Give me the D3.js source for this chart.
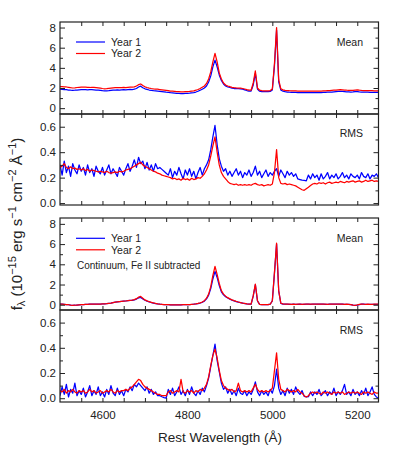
<!DOCTYPE html>
<html>
<head>
<meta charset="utf-8">
<script src="https://cdn.jsdelivr.net/npm/d3@7"></script>
<style>
  body { margin: 0; background: #fff; }
  svg { font-family: "Liberation Sans", Arial, Helvetica, sans-serif; }
</style>
</head>
<body>
<div id="chart"></div>
<script>
// wavelength grid, 5 A steps from 4500 to 5250
const waveStart = 4500, waveStep = 5, waveEnd = 5250;
const wave = d3.range(waveStart, waveEnd + 1, waveStep);

// Mean spectra (top panel)
const meanY1 = [
  1.88,1.87,1.85,1.83,1.80,1.78,1.77,1.78,1.80,1.82,
  1.84,1.85,1.84,1.82,1.83,1.84,1.82,1.80,1.78,1.76,
  1.73,1.71,1.72,1.74,1.77,1.79,1.80,1.81,1.80,1.82,
  1.83,1.82,1.84,1.86,1.85,1.88,1.95,2.10,2.18,2.02,
  1.92,1.86,1.80,1.77,1.74,1.72,1.70,1.67,1.64,1.61,
  1.58,1.56,1.53,1.51,1.49,1.47,1.46,1.45,1.45,1.46,
  1.47,1.49,1.52,1.55,1.60,1.68,1.78,1.88,2.00,2.20,
  2.60,3.20,4.10,4.77,4.10,3.30,2.75,2.40,2.20,2.10,
  2.05,1.98,1.95,1.93,1.93,1.92,1.88,1.82,1.75,1.70,
  1.70,2.30,3.46,1.90,1.68,1.65,1.64,1.64,1.63,1.66,
  1.80,4.20,7.74,2.60,1.80,1.68,1.63,1.60,1.58,1.57,
  1.56,1.56,1.55,1.55,1.54,1.54,1.54,1.53,1.54,1.54,
  1.54,1.55,1.55,1.55,1.56,1.57,1.58,1.59,1.60,1.62,
  1.64,1.66,1.67,1.66,1.64,1.62,1.61,1.60,1.61,1.63,
  1.65,1.62,1.60,1.59,1.58,1.58,1.57,1.57,1.56,1.56,
  1.56
];
const meanY2 = [
  2.13,2.14,2.12,2.10,2.07,2.03,2.00,2.02,2.05,2.07,
  2.08,2.09,2.08,2.06,2.05,2.07,2.06,2.04,2.02,1.99,
  1.95,1.92,1.93,1.96,1.99,2.02,2.03,2.04,2.03,2.04,
  2.05,2.04,2.06,2.08,2.08,2.12,2.20,2.33,2.40,2.25,
  2.12,2.05,1.99,1.95,1.92,1.90,1.88,1.85,1.82,1.79,
  1.76,1.73,1.70,1.68,1.66,1.64,1.63,1.62,1.62,1.63,
  1.64,1.66,1.69,1.72,1.78,1.85,1.95,2.08,2.20,2.45,
  2.90,3.60,4.60,5.43,4.60,3.50,2.90,2.50,2.30,2.20,
  2.13,2.07,2.03,2.01,2.00,1.99,1.95,1.90,1.84,1.79,
  1.78,2.50,3.69,2.00,1.78,1.74,1.72,1.72,1.71,1.74,
  1.90,4.40,8.00,2.80,1.92,1.82,1.77,1.75,1.73,1.72,
  1.71,1.71,1.70,1.70,1.69,1.69,1.69,1.68,1.69,1.69,
  1.69,1.70,1.70,1.70,1.71,1.72,1.73,1.74,1.76,1.78,
  1.80,1.82,1.83,1.82,1.80,1.78,1.77,1.76,1.77,1.79,
  1.81,1.78,1.76,1.75,1.74,1.74,1.73,1.73,1.72,1.72,
  1.72
];

// RMS spectra
const rmsY1 = [
  0.30,0.22,0.33,0.24,0.29,0.21,0.31,0.26,0.23,0.30,
  0.25,0.28,0.22,0.30,0.24,0.27,0.21,0.29,0.25,0.23,
  0.28,0.22,0.26,0.30,0.23,0.27,0.24,0.21,0.28,0.25,
  0.22,0.27,0.31,0.25,0.29,0.34,0.28,0.36,0.31,0.33,
  0.27,0.32,0.26,0.30,0.25,0.31,0.27,0.28,0.265,0.25,
  0.235,0.22,0.27,0.20,0.25,0.22,0.28,0.23,0.19,0.26,
  0.22,0.27,0.21,0.25,0.19,0.24,0.28,0.22,0.27,0.30,
  0.34,0.42,0.52,0.61,0.46,0.35,0.29,0.25,0.27,0.22,
  0.25,0.21,0.24,0.27,0.22,0.25,0.20,0.24,0.22,0.26,
  0.21,0.24,0.29,0.22,0.25,0.20,0.23,0.26,0.21,0.24,
  0.22,0.25,0.27,0.21,0.26,0.23,0.20,0.25,0.22,0.24,
  0.21,0.23,0.19,0.185,0.18,0.178,0.175,0.22,0.19,0.23,
  0.20,0.22,0.18,0.23,0.19,0.21,0.24,0.19,0.22,0.20,
  0.23,0.19,0.21,0.24,0.20,0.22,0.19,0.23,0.21,0.20,
  0.22,0.19,0.24,0.21,0.20,0.23,0.19,0.22,0.21,0.23,
  0.20
];
const rmsY2 = [
  0.28,0.29,0.31,0.28,0.27,0.285,0.27,0.275,0.265,0.27,
  0.26,0.27,0.255,0.265,0.25,0.26,0.255,0.25,0.245,0.25,
  0.245,0.24,0.25,0.24,0.235,0.24,0.245,0.24,0.25,0.245,
  0.25,0.26,0.265,0.27,0.28,0.29,0.30,0.31,0.32,0.30,
  0.29,0.28,0.27,0.26,0.25,0.245,0.235,0.23,0.22,0.215,
  0.21,0.205,0.20,0.19,0.195,0.185,0.19,0.18,0.195,0.185,
  0.19,0.18,0.195,0.185,0.19,0.20,0.195,0.21,0.23,0.26,
  0.30,0.37,0.45,0.52,0.40,0.30,0.24,0.21,0.19,0.17,
  0.155,0.15,0.145,0.15,0.14,0.145,0.14,0.145,0.14,0.145,
  0.14,0.15,0.155,0.145,0.14,0.145,0.135,0.14,0.145,0.14,
  0.15,0.24,0.42,0.20,0.155,0.15,0.155,0.145,0.15,0.145,
  0.14,0.135,0.125,0.115,0.105,0.10,0.1125,0.125,0.1375,0.15,
  0.155,0.15,0.16,0.155,0.16,0.15,0.16,0.165,0.155,0.16,
  0.165,0.16,0.17,0.165,0.16,0.17,0.165,0.17,0.175,0.165,
  0.17,0.175,0.165,0.17,0.18,0.17,0.175,0.18,0.17,0.175,
  0.17
];

// Mean spectra, continuum and Fe II subtracted
const meanSubY1 = [
  0.07,0.06,0.04,0.02,0.00,-0.04,-0.06,-0.05,-0.03,-0.01,
  0.01,0.02,0.03,0.04,0.05,0.05,0.06,0.06,0.06,0.07,
  0.08,0.09,0.11,0.14,0.17,0.21,0.25,0.28,0.31,0.33,
  0.35,0.37,0.40,0.42,0.44,0.48,0.56,0.68,0.72,0.58,
  0.44,0.35,0.28,0.22,0.17,0.12,0.08,0.05,0.03,0.02,
  0.01,0.00,-0.01,-0.01,-0.02,-0.02,-0.01,-0.01,0.00,0.00,
  0.01,0.02,0.03,0.05,0.08,0.12,0.17,0.24,0.36,0.58,
  0.95,1.60,2.55,3.30,2.70,1.90,1.28,0.98,0.80,0.66,
  0.55,0.46,0.38,0.31,0.25,0.20,0.16,0.12,0.08,0.06,
  0.05,0.85,2.00,0.38,0.03,0.01,0.00,0.00,0.01,0.05,
  0.38,3.10,6.00,1.35,0.14,0.07,0.05,0.05,0.04,0.04,
  0.05,0.04,0.04,0.05,0.04,0.04,0.05,0.05,0.04,0.05,
  0.05,0.05,0.06,0.05,0.05,0.04,0.04,0.05,0.05,0.05,
  0.05,0.06,0.06,0.05,0.04,0.04,0.04,0.02,-0.04,-0.07,
  -0.03,0.02,0.06,0.05,0.04,0.04,0.04,0.03,0.04,0.04,
  0.04
];
const meanSubY2 = [
  0.07,0.06,0.04,0.02,0.00,-0.04,-0.06,-0.05,-0.03,-0.01,
  0.01,0.02,0.03,0.04,0.05,0.05,0.06,0.06,0.06,0.07,
  0.08,0.09,0.11,0.14,0.17,0.21,0.25,0.28,0.31,0.33,
  0.35,0.37,0.40,0.42,0.45,0.50,0.60,0.75,0.82,0.65,
  0.48,0.38,0.30,0.24,0.18,0.13,0.09,0.06,0.04,0.02,
  0.01,0.00,-0.01,-0.01,-0.02,-0.02,-0.01,-0.01,0.00,0.00,
  0.01,0.02,0.04,0.06,0.09,0.13,0.19,0.27,0.40,0.65,
  1.05,1.80,2.90,3.80,3.00,2.10,1.40,1.05,0.85,0.70,
  0.58,0.48,0.40,0.33,0.27,0.22,0.17,0.13,0.09,0.07,
  0.06,0.90,2.05,0.40,0.03,0.01,0.00,0.00,0.01,0.05,
  0.40,3.20,6.10,1.40,0.15,0.08,0.06,0.05,0.05,0.04,
  0.05,0.04,0.05,0.05,0.04,0.05,0.06,0.05,0.05,0.06,
  0.06,0.05,0.06,0.06,0.05,0.05,0.04,0.05,0.06,0.05,
  0.06,0.07,0.06,0.05,0.04,0.05,0.04,0.02,-0.03,-0.06,
  -0.02,0.03,0.07,0.05,0.04,0.05,0.04,0.04,0.05,0.05,
  0.05
];

// RMS spectra, continuum and Fe II subtracted
const rmsSubY1 = [
  0.02,0.09,0.03,0.11,0.01,0.07,0.04,0.12,0.02,0.06,
  0.03,0.08,0.01,0.05,0.10,0.02,0.06,0.03,0.09,0.02,
  0.05,0.01,0.07,0.03,0.10,0.04,0.02,0.08,0.03,0.06,
  0.02,0.07,0.05,0.09,0.06,0.11,0.09,0.12,0.10,0.08,
  0.06,0.09,0.04,0.07,0.03,0.05,0.02,0.02,0.012,0.005,
  0.00,0.07,0.03,0.08,0.02,0.05,0.09,0.03,0.06,0.02,
  0.07,0.03,0.09,0.04,0.02,0.06,0.03,0.08,0.05,0.10,
  0.16,0.25,0.34,0.43,0.30,0.21,0.12,0.07,0.09,0.04,
  0.07,0.03,0.06,0.02,0.08,0.04,0.03,0.06,0.02,0.05,
  0.03,0.07,0.13,0.05,0.02,0.06,0.03,0.05,0.02,0.07,
  0.04,0.10,0.23,0.08,0.03,0.06,0.02,0.08,0.04,0.07,
  0.03,0.09,0.05,0.03,0.06,0.015,0.01,0.012,0.05,0.02,
  0.05,0.03,0.07,0.02,0.04,0.06,0.02,0.05,0.03,0.08,
  0.02,0.05,0.03,0.06,0.11,0.03,0.05,0.02,0.07,0.03,
  0.05,0.02,0.06,0.03,0.08,0.02,0.05,0.09,0.03,0.01,
  0.00
];
const rmsSubY2 = [
  0.06,0.05,0.07,0.04,0.06,0.05,0.07,0.05,0.04,0.06,
  0.05,0.06,0.04,0.05,0.07,0.05,0.06,0.04,0.05,0.06,
  0.04,0.05,0.06,0.05,0.07,0.05,0.04,0.06,0.05,0.06,
  0.06,0.07,0.06,0.08,0.09,0.11,0.13,0.15,0.14,0.11,
  0.09,0.08,0.07,0.06,0.05,0.04,0.03,0.03,0.02,0.02,
  0.02,0.05,0.06,0.04,0.05,0.06,0.05,0.15,0.05,0.04,
  0.06,0.05,0.06,0.04,0.06,0.05,0.07,0.06,0.08,0.11,
  0.17,0.26,0.34,0.39,0.32,0.22,0.14,0.10,0.08,0.07,
  0.06,0.07,0.05,0.06,0.12,0.06,0.05,0.06,0.05,0.06,
  0.05,0.08,0.11,0.07,0.05,0.06,0.05,0.06,0.05,0.06,
  0.08,0.22,0.36,0.15,0.07,0.06,0.05,0.07,0.06,0.05,
  0.06,0.05,0.07,0.05,0.04,0.02,0.01,0.02,0.04,0.05,
  0.04,0.05,0.04,0.03,0.05,0.04,0.05,0.04,0.03,0.05,
  0.04,0.05,0.04,0.05,0.03,0.04,0.05,0.04,0.05,0.04,
  0.05,0.04,0.03,0.05,0.04,0.05,0.04,0.03,0.05,0.04,
  0.04
];

const seriesNames = ["Year 1", "Year 2"];
const seriesColors = ["#0000ff", "#ff0000"];
const xTicks = d3.range(4550, 5250, 50);
const xLabels = [4600, 4800, 5000, 5200];

const width = 399, height = 457;
const left = 60, right = 378.5;

const svg = d3.select("#chart").append("svg")
    .attr("width", width)
    .attr("height", height);

const x = d3.scaleLinear().domain([waveStart, waveEnd]).range([left, right]);

const panels = [
    {top: 22, bottom: 114, domain: [-0.58, 8.55], major: [0, 2, 4, 6, 8], minor: [1, 3, 5, 7],
     fmt: d3.format("d"), tag: "Mean", tagY: 45.5, legendY: 42, data: [meanY1, meanY2]},
    {top: 114, bottom: 205, domain: [-0.015, 0.7], major: [0, 0.2, 0.4, 0.6], minor: [0.1, 0.3, 0.5],
     fmt: d3.format(".1f"), tag: "RMS", tagY: 137, data: [rmsY1, rmsY2]},
    {top: 218, bottom: 310, domain: [-0.52, 8.58], major: [0, 2, 4, 6, 8], minor: [1, 3, 5, 7],
     fmt: d3.format("d"), tag: "Mean", tagY: 242, legendY: 238.3, note: "Continuum, Fe II subtracted",
     data: [meanSubY1, meanSubY2]},
    {top: 310, bottom: 402, domain: [-0.03, 0.7], major: [0, 0.2, 0.4, 0.6], minor: [0.1, 0.3, 0.5],
     fmt: d3.format(".1f"), tag: "RMS", tagY: 334, data: [rmsSubY1, rmsSubY2], xLabels: true}
];

panels.forEach(function(p, pi) {
    let y = d3.scaleLinear().domain(p.domain).range([p.bottom, p.top]);

    svg.append("clipPath").attr("id", "clip" + pi)
        .append("rect")
        .attr("x", left).attr("y", p.top)
        .attr("width", right - left).attr("height", p.bottom - p.top);

    let line = d3.line()
        .x((d, i) => x(wave[i]))
        .y(d => y(d));

    let g = svg.append("g").attr("clip-path", `url(#clip${pi})`);
    p.data.forEach(function(vals, si) {
        g.append("path")
            .attr("d", line(vals))
            .attr("fill", "none")
            .attr("stroke", seriesColors[si])
            .attr("stroke-width", 1.25)
            .attr("stroke-linejoin", "round");
    });

    // left axis, major + minor
    svg.append("g")
        .attr("transform", `translate(${left},0)`)
        .call(d3.axisLeft(y).tickValues(p.major).tickFormat(p.fmt).tickSize(-5).tickSizeOuter(0).tickPadding(4));
    svg.append("g")
        .attr("transform", `translate(${left},0)`)
        .call(d3.axisLeft(y).tickValues(p.minor).tickFormat("").tickSize(-3).tickSizeOuter(0));
    // right axis
    svg.append("g")
        .attr("transform", `translate(${right},0)`)
        .call(d3.axisRight(y).tickValues(p.major).tickFormat("").tickSize(-5).tickSizeOuter(0));
    svg.append("g")
        .attr("transform", `translate(${right},0)`)
        .call(d3.axisRight(y).tickValues(p.minor).tickFormat("").tickSize(-3).tickSizeOuter(0));
    // top and bottom
    svg.append("g")
        .attr("transform", `translate(0,${p.top})`)
        .call(d3.axisTop(x).tickValues(xTicks).tickFormat("").tickSize(-4).tickSizeOuter(0));
    svg.append("g")
        .attr("transform", `translate(0,${p.bottom})`)
        .call(d3.axisBottom(x).tickValues(xTicks)
            .tickFormat(d => (p.xLabels && xLabels.includes(d)) ? d : "")
            .tickSize(-4).tickSizeOuter(0).tickPadding(8.5));

    // frame
    svg.append("rect")
        .attr("x", left).attr("y", p.top)
        .attr("width", right - left).attr("height", p.bottom - p.top)
        .attr("fill", "none").attr("stroke", "#222").attr("stroke-width", 1.2);

    svg.append("text")
        .attr("x", 363).attr("y", p.tagY)
        .attr("text-anchor", "end")
        .style("font-size", "10.5px")
        .attr("fill", "#222")
        .text(p.tag);

    if (p.legendY) {
        seriesNames.forEach(function(name, si) {
            let ly = p.legendY + si * 11.5;
            svg.append("line")
                .attr("x1", 76).attr("x2", 105)
                .attr("y1", ly).attr("y2", ly)
                .attr("stroke", seriesColors[si]).attr("stroke-width", 1.2);
            svg.append("text")
                .attr("x", 111).attr("y", ly + 3.7)
                .style("font-size", "10.5px")
                .attr("fill", "#222")
                .text(name);
        });
    }
    if (p.note) {
        svg.append("text")
            .attr("x", 77).attr("y", p.legendY + 31)
            .style("font-size", "10px")
            .attr("fill", "#222")
            .text(p.note);
    }
});

svg.selectAll(".domain").remove();
svg.selectAll(".tick line").attr("stroke", "#222");
svg.selectAll(".tick text").attr("fill", "#222").style("font-size", "11.5px")
    .style("font-family", "'Liberation Sans', Arial, sans-serif");

// axis titles
svg.append("text")
    .attr("x", 220).attr("y", 442)
    .attr("text-anchor", "middle")
    .style("font-size", "13.5px")
    .attr("fill", "#222")
    .text("Rest Wavelength (Å)");

let yl = svg.append("text")
    .attr("transform", "translate(22,224) rotate(-90)")
    .attr("text-anchor", "middle")
    .style("font-size", "15px")
    .attr("fill", "#222");
yl.append("tspan").text("f");
yl.append("tspan").attr("dy", 3).style("font-size", "11px").text("λ");
yl.append("tspan").attr("dy", -3).text(" (10");
yl.append("tspan").attr("dy", -6).style("font-size", "11px").text("−15");
yl.append("tspan").attr("dy", 6).text(" erg s");
yl.append("tspan").attr("dy", -6).style("font-size", "11px").text("−1");
yl.append("tspan").attr("dy", 6).text(" cm");
yl.append("tspan").attr("dy", -6).style("font-size", "11px").text("−2");
yl.append("tspan").attr("dy", 6).text(" Å");
yl.append("tspan").attr("dy", -6).style("font-size", "11px").text("−1");
yl.append("tspan").attr("dy", 6).text(")");
</script>
</body>
</html>
